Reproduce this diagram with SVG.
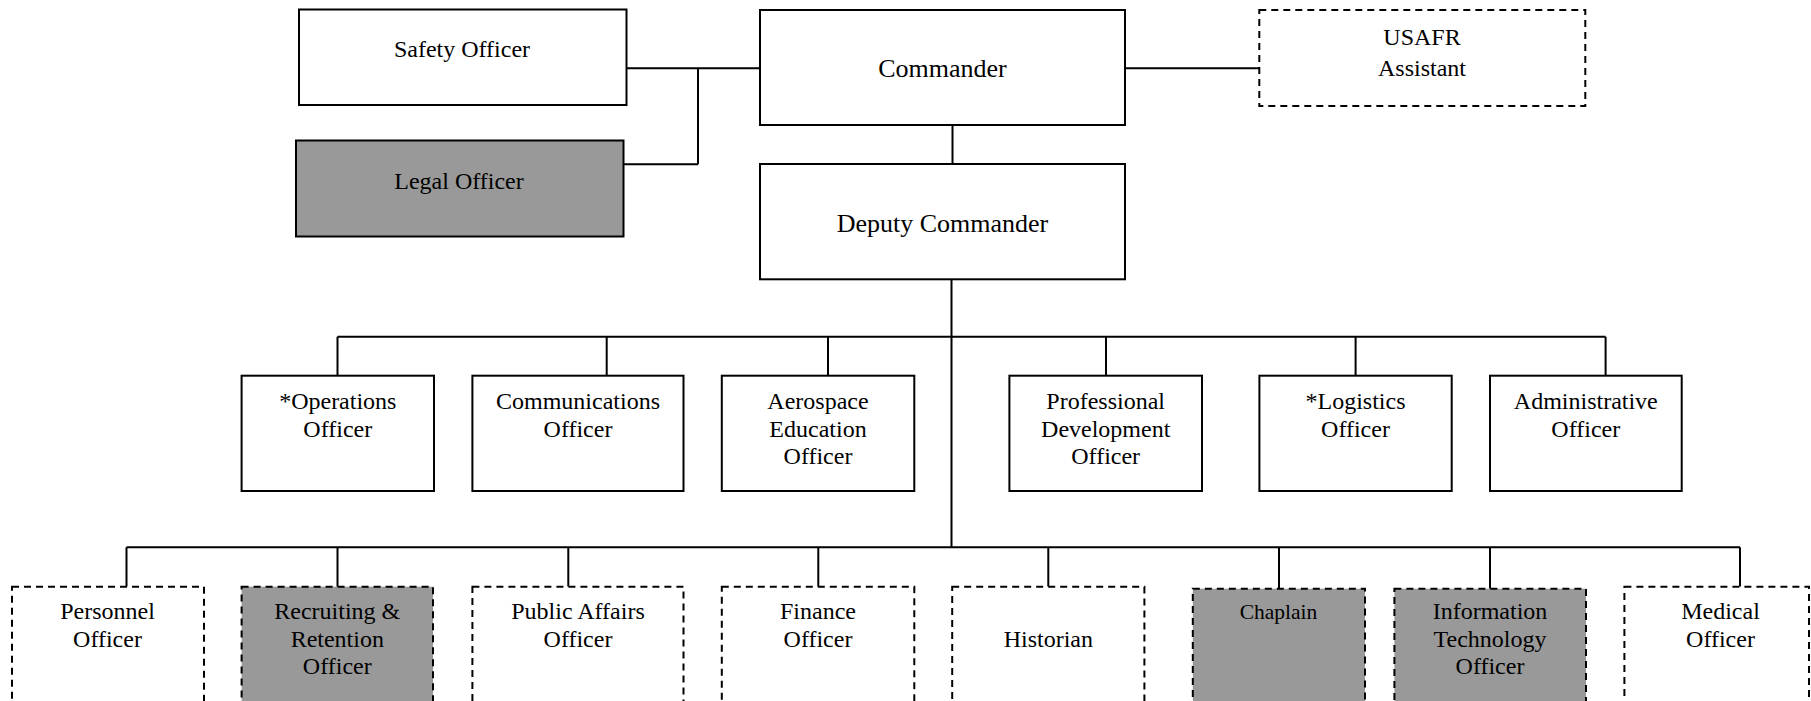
<svg xmlns="http://www.w3.org/2000/svg" width="1811" height="701" viewBox="0 0 1811 701">
<style>
.box{fill:#ffffff;stroke:#000000;stroke-width:2}
.gray{fill:#999999}
.dash{stroke-dasharray:7 5}
.t{font-family:"Liberation Serif","Times New Roman",serif;font-size:24px;fill:#000000;text-anchor:middle}
.big{font-size:26px}
.small{font-size:21.5px}
.conn{stroke:#000000;stroke-width:2;fill:none}
</style>
<rect width="1811" height="701" fill="#ffffff"/>
<g id="connectors">
<path class="conn" d="M626.7,68.3 H760 M698,68.3 V164.3 M623.4,164.3 H698"/>
<path class="conn" d="M1125,68.3 H1259.3"/>
<path class="conn" d="M952.5,125 V164"/>
<path class="conn" d="M951.5,279.3 V547.3"/>
<path class="conn" d="M337.5,336.7 H1605.6 M337.5,336.7 V375.7 M606.7,336.7 V375.7 M828,336.7 V375.7 M1106,336.7 V375.7 M1355.6,336.7 V375.7 M1605.6,336.7 V375.7"/>
<path class="conn" d="M126.5,547.3 H1740 M126.5,547.3 V586.7 M337.5,547.3 V586.7 M568.3,547.3 V586.7 M818.3,547.3 V586.7 M1048.3,547.3 V586.7 M1279,547.3 V588.7 M1490,547.3 V588.7 M1740,547.3 V586.7"/>
</g>
<g id="safety">
<rect class="box" x="299" y="9.5" width="327.5" height="95.5"/>
<text class="t" x="462" y="57.3">Safety Officer</text>
</g>
<g id="legal">
<rect class="box gray" x="296" y="140.5" width="327.5" height="96"/>
<text class="t" x="459" y="189">Legal Officer</text>
</g>
<g id="commander">
<rect class="box" x="760" y="10" width="365" height="115"/>
<text class="t big" x="942.5" y="76.7">Commander</text>
</g>
<g id="usafr">
<rect class="box dash" x="1259.3" y="10" width="326" height="96"/>
<text class="t" x="1422" y="45">USAFR</text>
<text class="t" x="1422" y="76">Assistant</text>
</g>
<g id="deputy">
<rect class="box" x="760" y="164" width="365" height="115.3"/>
<text class="t big" x="942.5" y="231.7">Deputy Commander</text>
</g>
<g id="operations">
<rect class="box" x="241.6" y="375.7" width="192.4" height="115.3"/>
<text class="t" x="337.8" y="409.3">*Operations</text>
<text class="t" x="337.8" y="436.8">Officer</text>
</g>
<g id="communications">
<rect class="box" x="472.4" y="375.7" width="211.1" height="115.3"/>
<text class="t" x="578" y="409.3">Communications</text>
<text class="t" x="578" y="436.8">Officer</text>
</g>
<g id="aerospace">
<rect class="box" x="721.8" y="375.7" width="192.5" height="115.3"/>
<text class="t" x="818" y="409.3">Aerospace</text>
<text class="t" x="818" y="436.8">Education</text>
<text class="t" x="818" y="464.3">Officer</text>
</g>
<g id="professional">
<rect class="box" x="1009.4" y="375.7" width="192.6" height="115.3"/>
<text class="t" x="1105.7" y="409.3">Professional</text>
<text class="t" x="1105.7" y="436.8">Development</text>
<text class="t" x="1105.7" y="464.3">Officer</text>
</g>
<g id="logistics">
<rect class="box" x="1259.4" y="375.7" width="192.3" height="115.3"/>
<text class="t" x="1355.5" y="409.3">*Logistics</text>
<text class="t" x="1355.5" y="436.8">Officer</text>
</g>
<g id="administrative">
<rect class="box" x="1490" y="375.7" width="191.7" height="115.3"/>
<text class="t" x="1585.8" y="409.3">Administrative</text>
<text class="t" x="1585.8" y="436.8">Officer</text>
</g>
<g id="personnel">
<rect class="box dash" x="12" y="586.7" width="192" height="140"/>
<text class="t" x="107.5" y="619.3">Personnel</text>
<text class="t" x="107.5" y="646.8">Officer</text>
</g>
<g id="recruiting">
<rect class="box gray dash" x="241.6" y="586.7" width="191.4" height="140"/>
<text class="t" x="337.3" y="619.3">Recruiting &amp;</text>
<text class="t" x="337.3" y="646.8">Retention</text>
<text class="t" x="337.3" y="674.3">Officer</text>
</g>
<g id="publicaffairs">
<rect class="box dash" x="472.4" y="586.7" width="211.1" height="140"/>
<text class="t" x="578" y="619.3">Public Affairs</text>
<text class="t" x="578" y="646.8">Officer</text>
</g>
<g id="finance">
<rect class="box dash" x="721.8" y="586.7" width="192.5" height="140"/>
<text class="t" x="818" y="619.3">Finance</text>
<text class="t" x="818" y="646.8">Officer</text>
</g>
<g id="historian">
<rect class="box dash" x="952.2" y="586.7" width="192.2" height="140"/>
<text class="t" x="1048.3" y="646.8">Historian</text>
</g>
<g id="chaplain">
<rect class="box gray dash" x="1192.8" y="588.7" width="172.2" height="140"/>
<text class="t small" x="1278.5" y="619.3">Chaplain</text>
</g>
<g id="infotech">
<rect class="box gray dash" x="1394.4" y="588.7" width="191.6" height="140"/>
<text class="t" x="1490" y="619.3">Information</text>
<text class="t" x="1490" y="646.8">Technology</text>
<text class="t" x="1490" y="674.3">Officer</text>
</g>
<g id="medical">
<rect class="box dash" x="1624.4" y="586.7" width="184.6" height="140"/>
<text class="t" x="1720.5" y="619.3">Medical</text>
<text class="t" x="1720.5" y="646.8">Officer</text>
</g>
</svg>
